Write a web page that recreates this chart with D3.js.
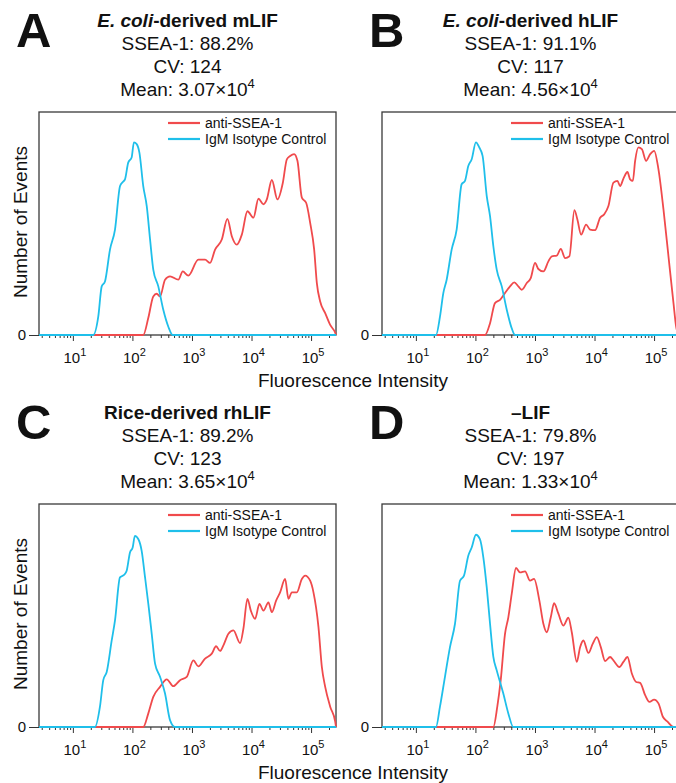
<!DOCTYPE html>
<html>
<head>
<meta charset="utf-8">
<script src="https://cdn.jsdelivr.net/npm/d3@7"></script>
<style>
  body { margin: 0; background: #fff; }
  text { font-family: 'Liberation Sans', Arial, Helvetica, sans-serif; fill: #111; }
</style>
</head>
<body>
<svg id="chart" width="676" height="783"></svg>
<script>
// fluorescence axis limits and labelled decades
let xMin = 2.7
let xMax = 262144
let decades = [1, 2, 3, 4, 5]

// panel texts
let panelLetters = ['A', 'B', 'C', 'D']
let panelTitles = [
    [['E. coli', true], ['-derived mLIF', false]],
    [['E. coli', true], ['-derived hLIF', false]],
    [['Rice-derived rhLIF', false]],
    [['\u2013LIF', false]]
]
let sseaValues = ['88.2%', '91.1%', '89.2%', '79.8%']
let cvValues = ['124', '117', '123', '197']
let meanValues = ['3.07', '4.56', '3.65', '1.33']
let meanExp = ['4', '4', '4', '4']
let seriesNames = ['anti-SSEA-1', 'IgM Isotype Control']

// histograms: [fluorescence intensity, relative number of events]
let mlifAnti = [[2.7,0],[152,0],[185,7.7],[224,17.3],[256,18.5],[291,17.3],[353,24.8],[428,26.3],[591,24.8],[700,28.5],[869,26.6],[1279,33.8],[1659,33.8],[2013,32.3],[2443,38.3],[3167,42.8],[3935,52.1],[4666,44.3],[5662,40.5],[6871,45.0],[8536,55.5],[10770,52.6],[13060,61.1],[15850,58.6],[18070,60.8],[21930,69.5],[27230,60.8],[33570,68.3],[39170,78.8],[44500,80.3],[51950,81.1],[59020,78.1],[69980,61.6],[82620,59.3],[96570,50.3],[112700,38.3],[125000,23.3],[142200,15.0],[172600,9.8],[209400,4.5],[254300,1.0],[262144,0]]
let mlifIso = [[2.7,0],[22,0],[26.7,8.2],[30.5,21.8],[34.6,24.0],[42,38.3],[51,47.3],[62,66.8],[69,68.6],[75,69.8],[85,77.3],[97,79.6],[106,86.4],[118,85.6],[131,81.8],[152,66.8],[174,57.8],[198,42.8],[224,29.3],[272,21.8],[330,11.3],[401,3.7],[475,0],[262144,0]]

let hlifAnti = [[2.7,0],[145,0],[176,5.3],[213,14.3],[259,15.8],[314,18.8],[381,21.8],[450,23.6],[526,21.8],[600,20.3],[728,23.3],[849,25.5],[1003,32.3],[1140,29.6],[1384,28.5],[1679,33.0],[1915,35.3],[2323,35.6],[2712,38.6],[3206,34.5],[3785,35.3],[4592,56.0],[5155,51.8],[5952,45.0],[7222,49.5],[8433,47.3],[10230,47.0],[12410,52.6],[14490,54.1],[17110,57.8],[20760,68.3],[24250,69.1],[26900,66.8],[30570,70.1],[35700,73.1],[39600,69.8],[43960,69.1],[48080,78.1],[54650,84.1],[62370,83.3],[73580,78.1],[85960,81.1],[100300,82.6],[118500,74.3],[143800,56.3],[174500,35.3],[211800,14.3],[235000,3.7],[262144,0]]
let hlifIso = [[2.7,0],[21.8,0],[25.4,8.2],[28.9,18.8],[32.9,24.8],[39.9,38.3],[48.4,47.3],[58.7,67.6],[66.8,69.1],[75.9,75.8],[86.6,78.8],[102,86.4],[116,84.1],[132,80.3],[155,62.3],[176,53.3],[200,39.8],[228,29.3],[277,21.8],[336,11.3],[407,3.0],[463,0],[262144,0]]

let riceAnti = [[2.7,0],[152,0],[185,6.1],[224,13.5],[291,18.0],[377,21.4],[487,18.3],[631,21.0],[817,22.5],[1055,29.9],[1279,27.2],[1659,30.7],[2151,32.9],[2541,36.2],[2965,34.1],[3373,36.6],[4093,41.8],[4966,43.3],[6430,37.6],[7307,44.1],[8536,57.5],[9728,52.2],[11480,48.5],[13580,55.2],[15850,52.2],[19230,55.9],[21930,51.5],[25880,56.7],[30210,60.4],[36650,66.4],[41690,57.5],[47530,60.4],[57670,60.4],[69980,66.4],[79620,67.9],[96570,65.6],[109700,60.4],[133100,44.8],[151700,26.9],[172600,18.0],[209400,9.1],[254300,2.4],[262144,0]]
let riceIso = [[2.7,0],[23.5,0],[28.5,9.1],[32.4,21.0],[37.0,24.7],[44.9,38.8],[51.0,47.8],[61.8,67.1],[72.2,68.2],[80.1,70.1],[91.0,78.3],[101,80.5],[110,85.7],[126,84.2],[143,79.0],[163,67.1],[185,55.2],[211,41.8],[240,28.4],[291,22.5],[353,15.0],[428,3.1],[520,0],[262144,0]]

let noLifAnti = [[2.7,0],[200,0],[233,9.1],[266,21.0],[314,41.8],[357,49.2],[407,59.7],[481,71.3],[561,69.3],[681,69.8],[826,65.6],[966,66.4],[1186,56.7],[1384,46.3],[1578,42.5],[1842,49.2],[2094,55.5],[2472,50.8],[3000,45.5],[3640,49.0],[4150,42.5],[5035,29.2],[5724,35.8],[6508,38.8],[7894,33.2],[9354,37.4],[10920,40.3],[12750,35.8],[15070,29.6],[18280,31.4],[20760,29.9],[26180,26.9],[30570,29.2],[35700,31.4],[42330,24.0],[50020,20.2],[58370,19.8],[70810,14.3],[83570,11.3],[100300,12.3],[118500,10.6],[140500,4.6],[168000,2.4],[211800,0],[262144,0]]
let noLifIso = [[2.7,0],[21.8,0],[25.4,9.1],[30.8,22.5],[37.4,35.8],[45.4,46.3],[55.1,65.6],[64.3,67.9],[75.9,76.8],[86.6,80.5],[102,86.2],[119,84.2],[136,76.0],[155,62.6],[176,46.3],[200,31.4],[228,25.4],[294,15.0],[357,6.1],[433,0],[262144,0]]

let antiSeries = [mlifAnti, hlifAnti, riceAnti, noLifAnti]
let isoSeries = [mlifIso, hlifIso, riceIso, noLifIso]

let redColor = '#f04a4c'
let blueColor = '#1fbfea'

let svg = d3.select('#chart')
let boxW = 297
let boxH = 223
let lefts = [39, 382, 39, 382]
let tops = [112, 112, 504, 504]
let letterX = [16, 369, 16, 369]

let minorTicks = []
for (let e = 0; e <= 5; e++) {
    for (let m = 2; m <= 9; m++) {
        let v = m * Math.pow(10, e)
        if (v >= xMin && v <= xMax) minorTicks.push(v)
    }
}

let drawPanel = (i) => {
    let left = lefts[i]
    let top = tops[i]
    let g = svg.append('g')

    let x = d3.scaleLog().domain([xMin, xMax]).range([left, left + boxW])
    let y = d3.scaleLinear().domain([0, 100]).range([top + boxH, top])

    // letter
    g.append('text')
        .attr('x', letterX[i])
        .attr('y', top - 65)
        .style('font-size', '49px')
        .style('font-weight', 'bold')
        .text(panelLetters[i])

    // title + stats
    let cx = left + boxW / 2
    let title = g.append('text')
        .attr('x', cx).attr('y', top - 85)
        .attr('text-anchor', 'middle')
        .style('font-size', '19px')
        .style('font-weight', 'bold')
    panelTitles[i].forEach((part) => {
        title.append('tspan')
            .style('font-style', part[1] ? 'italic' : 'normal')
            .text(part[0])
    })
    g.append('text')
        .attr('x', cx).attr('y', top - 62)
        .attr('text-anchor', 'middle')
        .style('font-size', '19px')
        .text('SSEA-1: ' + sseaValues[i])
    g.append('text')
        .attr('x', cx).attr('y', top - 39)
        .attr('text-anchor', 'middle')
        .style('font-size', '19px')
        .text('CV: ' + cvValues[i])
    let mean = g.append('text')
        .attr('x', cx).attr('y', top - 16)
        .attr('text-anchor', 'middle')
        .style('font-size', '19px')
    mean.append('tspan').text('Mean: ' + meanValues[i] + '\u00d710')
    mean.append('tspan').attr('dy', -8).style('font-size', '13px').text(meanExp[i])

    // frame
    g.append('rect')
        .attr('x', left).attr('y', top)
        .attr('width', boxW).attr('height', boxH)
        .attr('fill', 'none')
        .attr('stroke', '#3a3a3a')
        .attr('stroke-width', 1.3)

    // x axis ticks
    let minorAxis = g.append('g')
        .attr('transform', 'translate(0,' + (top + boxH) + ')')
        .call(d3.axisBottom(x).tickValues(minorTicks).tickSize(3).tickFormat(''))
    minorAxis.select('.domain').remove()
    let majorAxis = g.append('g')
        .attr('transform', 'translate(0,' + (top + boxH) + ')')
        .call(d3.axisBottom(x).tickValues(decades.map(d => Math.pow(10, d))).tickSize(6).tickFormat(''))
    majorAxis.select('.domain').remove()
    g.selectAll('.tick line').attr('stroke', '#333')

    decades.forEach((d) => {
        let t = g.append('text')
            .attr('x', x(Math.pow(10, d)) + 2)
            .attr('y', top + boxH + 28)
            .attr('text-anchor', 'middle')
            .style('font-size', '15px')
        t.append('tspan').text('10')
        t.append('tspan').attr('dy', -7).style('font-size', '11px').text(d)
    })

    // y axis: only zero
    let yAxis = g.append('g')
        .attr('transform', 'translate(' + left + ',0)')
        .call(d3.axisLeft(y).tickValues([0]).tickSize(10).tickPadding(3).tickFormat(d3.format('d')))
    yAxis.select('.domain').remove()
    yAxis.selectAll('text').style('font-size', '15px').attr('fill', '#111')
    yAxis.selectAll('line').attr('stroke', '#333')

    // curves
    let line = d3.line()
        .x(d => x(d[0]))
        .y(d => y(d[1]))
        .curve(d3.curveMonotoneX)

    g.append('path')
        .attr('d', line(antiSeries[i]))
        .attr('fill', 'none')
        .attr('stroke', redColor)
        .attr('stroke-width', 1.8)
    g.append('path')
        .attr('d', line(isoSeries[i]))
        .attr('fill', 'none')
        .attr('stroke', blueColor)
        .attr('stroke-width', 1.8)

    // legend
    let colors = [redColor, blueColor]
    seriesNames.forEach((name, k) => {
        let ly = top + 11 + k * 16
        g.append('line')
            .attr('x1', left + 129).attr('x2', left + 161)
            .attr('y1', ly).attr('y2', ly)
            .attr('stroke', colors[k])
            .attr('stroke-width', 2.2)
        g.append('text')
            .attr('x', left + 166).attr('y', ly + 4.5)
            .style('font-size', '14px')
            .text(name)
    })
}

for (let i = 0; i < 4; i++) drawPanel(i)

// shared axis titles
let axisTitleX = 353
let rowBottoms = [tops[0] + boxH, tops[2] + boxH]
rowBottoms.forEach((b) => {
    svg.append('text')
        .attr('x', axisTitleX).attr('y', b + 52)
        .attr('text-anchor', 'middle')
        .style('font-size', '19px')
        .text('Fluorescence Intensity')
    svg.append('text')
        .attr('transform', 'translate(27,' + (b - 113) + ') rotate(-90)')
        .attr('text-anchor', 'middle')
        .style('font-size', '19px')
        .text('Number of Events')
})
</script>
</body>
</html>
